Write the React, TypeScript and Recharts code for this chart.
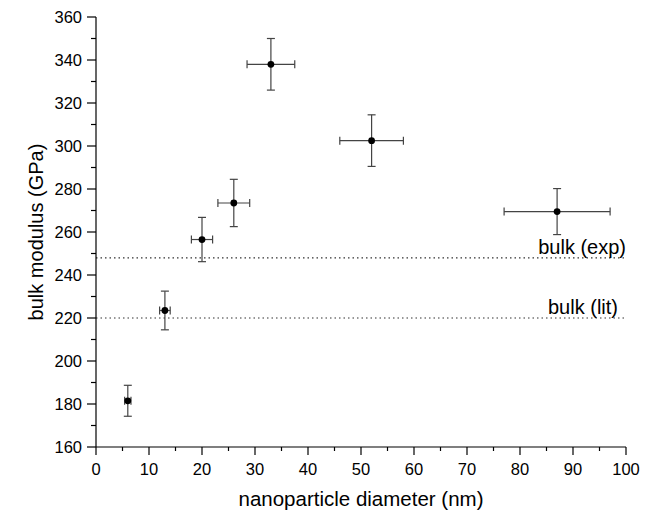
import { ErrorBar, Label, ReferenceLine, Scatter, ScatterChart, XAxis, YAxis } from 'recharts';

// nanoparticle diameter (nm) with its uncertainty
const diameters = [6, 13, 20, 26, 33, 52, 87];
const diameterErr = [0.6, 1, 2, 3, 4.5, 6, 10];
// bulk modulus (GPa) with its uncertainty
const bulkModulus = [181.5, 223.5, 256.5, 273.5, 338, 302.5, 269.5];
const modulusErr = [7.2, 9, 10.3, 11, 12, 12, 10.7];

const bulkExp = 248;
const bulkLit = 220;

const xTicks = [0, 5, 10, 15, 20, 25, 30, 35, 40, 45, 50, 55, 60, 65, 70, 75, 80, 85, 90, 95, 100];
const yTicks = [160, 170, 180, 190, 200, 210, 220, 230, 240, 250, 260, 270, 280, 290, 300, 310, 320, 330, 340, 350, 360];

const FONT = 'Arial, "Liberation Sans", Helvetica, sans-serif';
const INK = '#000';
const BAR_COLOR = '#444';

const points = diameters.map((d, i) => ({
  d,
  k: bulkModulus[i],
  dErr: diameterErr[i],
  kErr: modulusErr[i],
}));

function XTick({ x, y, payload }: any) {
  const major = payload.value % 10 === 0;
  return (
    <g>
      <line x1={x} x2={x} y1={y} y2={y + (major ? 8 : 4)} stroke={INK} strokeWidth={1.2} />
      {major && (
        <text x={x} y={y + 28} textAnchor="middle" fontSize={16.5} fontFamily={FONT} fill={INK}>
          {payload.value}
        </text>
      )}
    </g>
  );
}

function YTick({ x, y, payload }: any) {
  const major = payload.value % 20 === 0;
  return (
    <g>
      <line x1={x} x2={x - (major ? 9 : 5)} y1={y} y2={y} stroke={INK} strokeWidth={1.2} />
      {major && (
        <text x={x - 14} y={y + 5.8} textAnchor="end" fontSize={16.5} fontFamily={FONT} fill={INK}>
          {payload.value}
        </text>
      )}
    </g>
  );
}

function refLabel(text: string, rightPad: number) {
  return ({ viewBox }: any) => (
    <text
      x={viewBox.x + viewBox.width - rightPad}
      y={viewBox.y - 4}
      textAnchor="end"
      fontSize={20}
      fontFamily={FONT}
      fill={INK}
    >
      {text}
    </text>
  );
}

export default function App() {
  return (
    <div style={{ position: 'absolute', left: 0, top: 0, background: '#fff' }}>
      <ScatterChart width={650} height={510} margin={{ top: 17, right: 24, bottom: 0, left: 0 }}>
        <XAxis
          type="number"
          dataKey="d"
          domain={[0, 100]}
          ticks={xTicks}
          interval={0}
          height={63}
          tickLine={false}
          tickSize={0}
          tickMargin={0}
          tick={<XTick />}
          axisLine={{ stroke: INK, strokeWidth: 1.2 }}
        >
          <Label
            content={({ viewBox }: any) => (
              <text
                x={viewBox.x + viewBox.width / 2}
                y={viewBox.y + viewBox.height - 4}
                textAnchor="middle"
                fontSize={20.5}
                fontFamily={FONT}
                fill={INK}
              >
                nanoparticle diameter (nm)
              </text>
            )}
          />
        </XAxis>
        <YAxis
          type="number"
          dataKey="k"
          domain={[160, 360]}
          ticks={yTicks}
          interval={0}
          width={96}
          tickLine={false}
          tickSize={0}
          tickMargin={0}
          tick={<YTick />}
          axisLine={{ stroke: INK, strokeWidth: 1.2 }}
        >
          <Label
            content={({ viewBox }: any) => (
              <text
                transform={`translate(42.5, ${viewBox.y + viewBox.height / 2}) rotate(-90)`}
                textAnchor="middle"
                fontSize={20}
                fontFamily={FONT}
                fill={INK}
              >
                bulk modulus (GPa)
              </text>
            )}
          />
        </YAxis>
        <ReferenceLine y={bulkExp} stroke="#333" strokeWidth={1.2} strokeDasharray="1.5 3" label={refLabel('bulk (exp)', 0)} />
        <ReferenceLine y={bulkLit} stroke="#333" strokeWidth={1.2} strokeDasharray="1.5 3" label={refLabel('bulk (lit)', 8)} />
        <Scatter
          data={points}
          isAnimationActive={false}
          shape={(p: any) => <circle cx={p.cx} cy={p.cy} r={3.4} fill={INK} />}
        >
          <ErrorBar dataKey="dErr" direction="x" width={4} stroke={BAR_COLOR} strokeWidth={1.2} />
          <ErrorBar dataKey="kErr" direction="y" width={4} stroke={BAR_COLOR} strokeWidth={1.2} />
        </Scatter>
      </ScatterChart>
    </div>
  );
}
